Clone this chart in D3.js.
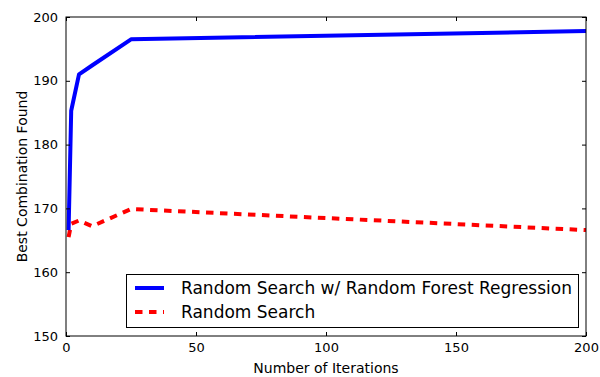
<!DOCTYPE html>
<html>
<head>
<meta charset="utf-8">
<script src="https://cdn.jsdelivr.net/npm/d3@7"></script>
<style>
  body { margin: 0; background: #fff; }
  text { font-family: "DejaVu Sans", sans-serif; fill: #000; }
</style>
</head>
<body>
<div id="chart"></div>
<script>
// data
const iterations = [1, 2, 5, 10, 25, 200];
const rfSearch = [166.6, 185.3, 191.0, 192.4, 196.5, 197.8];
const randSearch = [165.5, 167.6, 168.1, 167.2, 169.9, 166.6];
const xTicks = [0, 50, 100, 150, 200];
const yTicks = [150, 160, 170, 180, 190, 200];

const width = 600, height = 377;
const margin = {top: 17, right: 14, bottom: 41, left: 66};

const svg = d3.select('#chart').append('svg')
  .attr('width', width)
  .attr('height', height);

const x = d3.scaleLinear().domain([0, 200]).range([margin.left, width - margin.right]);
const y = d3.scaleLinear().domain([150, 200]).range([height - margin.bottom, margin.top]);

// lines
const line = d3.line()
  .x((d, i) => x(iterations[i]))
  .y(d => y(d));

const plot = svg.append('g');
plot.append('clipPath').attr('id', 'clip')
  .append('rect')
  .attr('x', x(0)).attr('y', y(200))
  .attr('width', x(200) - x(0)).attr('height', y(150) - y(200));

plot.append('path')
  .datum(randSearch)
  .attr('clip-path', 'url(#clip)')
  .attr('fill', 'none')
  .attr('stroke', '#ff0000')
  .attr('stroke-width', 4)
  .attr('stroke-dasharray', '7.5,6.5')
  .attr('d', line);

plot.append('path')
  .datum(rfSearch)
  .attr('clip-path', 'url(#clip)')
  .attr('fill', 'none')
  .attr('stroke', '#0000ff')
  .attr('stroke-width', 4)
  .attr('stroke-linejoin', 'round')
  .attr('d', line);

// axes (ticks inward on all four sides)
const tickLen = 4;
svg.append('g')
  .attr('transform', 'translate(0,' + y(150) + ')')
  .call(d3.axisBottom(x).tickValues(xTicks).tickSizeInner(-tickLen).tickSizeOuter(0).tickPadding(6))
  .call(g => g.select('.domain').remove())
  .call(g => g.selectAll('text').attr('font-size', 13).attr('dy', '0.75em'));

svg.append('g')
  .attr('transform', 'translate(0,' + y(200) + ')')
  .call(d3.axisTop(x).tickValues(xTicks).tickSizeInner(-tickLen).tickSizeOuter(0).tickFormat(''))
  .call(g => g.select('.domain').remove());

svg.append('g')
  .attr('transform', 'translate(' + x(0) + ',0)')
  .call(d3.axisLeft(y).tickValues(yTicks).tickSizeInner(-tickLen).tickSizeOuter(0).tickPadding(8))
  .call(g => g.select('.domain').remove())
  .call(g => g.selectAll('text').attr('font-size', 13));

svg.append('g')
  .attr('transform', 'translate(' + x(200) + ',0)')
  .call(d3.axisRight(y).tickValues(yTicks).tickSizeInner(-tickLen).tickSizeOuter(0).tickFormat(''))
  .call(g => g.select('.domain').remove());

svg.append('rect')
  .attr('x', x(0)).attr('y', y(200))
  .attr('width', x(200) - x(0)).attr('height', y(150) - y(200))
  .attr('fill', 'none')
  .attr('stroke', '#000')
  .attr('stroke-width', 1);

// axis titles
svg.append('text')
  .attr('x', (x(0) + x(200)) / 2)
  .attr('y', 373)
  .attr('text-anchor', 'middle')
  .attr('font-size', 14)
  .text('Number of Iterations');

svg.append('text')
  .attr('transform', 'translate(27,' + (y(150) + y(200)) / 2 + ') rotate(-90)')
  .attr('text-anchor', 'middle')
  .attr('font-size', 14)
  .text('Best Combination Found');

// legend
const legendItems = [
  {label: 'Random Search w/ Random Forest Regression', color: '#0000ff', dash: null},
  {label: 'Random Search', color: '#ff0000', dash: '7.5,6.5'}
];
const legend = svg.append('g');
legend.append('rect')
  .attr('x', 126.5).attr('y', 274.5)
  .attr('width', 452).attr('height', 53)
  .attr('fill', '#fff')
  .attr('stroke', '#000')
  .attr('stroke-width', 1);

const item = legend.selectAll('.item')
  .data(legendItems)
  .enter().append('g')
  .attr('class', 'item')
  .attr('transform', (d, i) => 'translate(0,' + (288 + i * 24) + ')');

item.append('line')
  .attr('x1', 135).attr('x2', 164)
  .attr('stroke', d => d.color)
  .attr('stroke-width', 4)
  .attr('stroke-dasharray', d => d.dash);

item.append('text')
  .attr('x', 181)
  .attr('dy', '0.35em')
  .attr('font-size', 17)
  .text(d => d.label);
</script>
</body>
</html>
